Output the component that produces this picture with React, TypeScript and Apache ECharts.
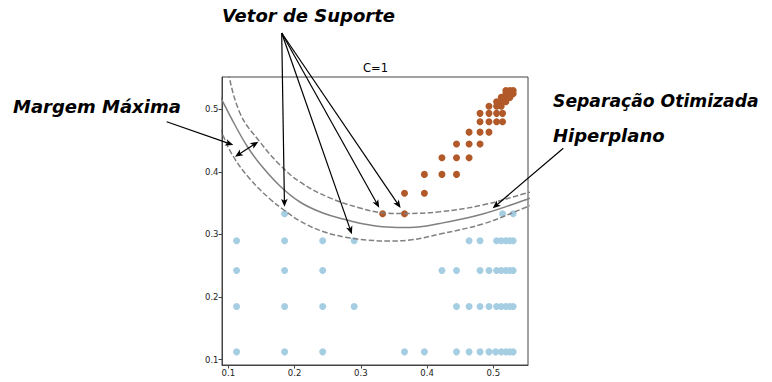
import React, { useEffect, useRef } from "react";
import * as echarts from "echarts";

// ---- axis ticks / ranges ----
const X_TICKS = [0.1, 0.2, 0.3, 0.4, 0.5];
const Y_TICKS = [0.1, 0.2, 0.3, 0.4, 0.5];
const X_RANGE = [0.0905, 0.5524];
const Y_RANGE = [0.0915, 0.5516];

// ---- class 0 (light blue) points, by row: [y, xs] ----
const BLUE_ROWS: [number, number[]][] = [
  [0.1125, [0.1125, 0.185, 0.2425, 0.366, 0.396, 0.4445, 0.4635, 0.48, 0.4935, 0.5035, 0.512, 0.519, 0.525, 0.53]],
  [0.185, [0.1125, 0.185, 0.2425, 0.29, 0.4445, 0.4635, 0.48, 0.4935, 0.505, 0.512, 0.519, 0.525, 0.53]],
  [0.2425, [0.1125, 0.185, 0.2425, 0.4225, 0.4445, 0.48, 0.4935, 0.505, 0.512, 0.519, 0.525, 0.53]],
  [0.29, [0.1125, 0.185, 0.2425, 0.29, 0.4635, 0.48, 0.505, 0.512, 0.519, 0.525, 0.53]],
  [0.333, [0.185, 0.514, 0.53]],
];

// ---- class 1 (brown) points ----
const ORANGE_POINTS: [number, number][] = [
  [0.333, 0.333], [0.366, 0.333],
  [0.366, 0.366], [0.396, 0.366],
  [0.396, 0.396], [0.4225, 0.396], [0.4445, 0.396],
  [0.4225, 0.4225], [0.4445, 0.4225], [0.4635, 0.4225],
  [0.4445, 0.4445], [0.4635, 0.4445], [0.48, 0.4445],
  [0.4635, 0.4635], [0.48, 0.4635], [0.4935, 0.4635],
  [0.48, 0.48], [0.4935, 0.48], [0.505, 0.48], [0.514, 0.48],
  [0.48, 0.4935], [0.4935, 0.4935], [0.505, 0.4935], [0.514, 0.4935],
  [0.4935, 0.505], [0.505, 0.505], [0.512, 0.505],
  [0.505, 0.512], [0.512, 0.512], [0.519, 0.512],
  [0.512, 0.519], [0.519, 0.519], [0.525, 0.519],
  [0.519, 0.525], [0.525, 0.525], [0.53, 0.525],
  [0.519, 0.53], [0.525, 0.53], [0.53, 0.53],
];

// ---- decision function contours ----
const DECISION_BOUNDARY: [number, number][] = [
  [0.0875, 0.522], [0.0905, 0.5149], [0.1101, 0.4749], [0.1282, 0.4414], [0.1478, 0.4126],
  [0.178, 0.3774], [0.2081, 0.3519], [0.2428, 0.3343], [0.279, 0.3232], [0.3092, 0.316],
  [0.3394, 0.312], [0.374, 0.3112], [0.4193, 0.3176], [0.4841, 0.3327], [0.5505, 0.3559],
  [0.5565, 0.3583],
];
const MARGIN_UPPER: [number, number][] = [
  [0.089, 0.5949], [0.0935, 0.5835], [0.1176, 0.4941], [0.1478, 0.4478], [0.178, 0.4111],
  [0.2081, 0.3839], [0.2534, 0.3584], [0.2986, 0.3424], [0.3363, 0.3343], [0.3665, 0.3335],
  [0.4193, 0.3364], [0.4841, 0.3471], [0.5505, 0.3663], [0.5565, 0.3679],
];
const MARGIN_LOWER: [number, number][] = [
  [0.0875, 0.4709], [0.0905, 0.4619], [0.1071, 0.4254], [0.1327, 0.3887], [0.1629, 0.3567],
  [0.184, 0.3391], [0.2081, 0.3216], [0.2428, 0.3048], [0.279, 0.2952], [0.3092, 0.2912],
  [0.3394, 0.2896], [0.374, 0.2912], [0.4193, 0.3008], [0.4841, 0.3168], [0.5505, 0.3439],
  [0.5565, 0.3463],
];

// support vectors pointed to by the annotation
const SUPPORT_VECTORS: [number, number][] = [
  [0.185, 0.333], [0.29, 0.29], [0.333, 0.333], [0.366, 0.333],
];

const TITLE = "C=1";
const LABEL_SV = "Vetor de Suporte";
const LABEL_MARGIN = "Margem Máxima";
const LABEL_SEP = "Separação Otimizada";
const LABEL_HYP = "Hiperplano";

const BLUE = "#a6cee3";
const BROWN = "#b15928";
const CONTOUR = "#808080";
const FONT = '"DejaVu Sans", "Noto Sans", sans-serif';

function arrow(
  x1: number, y1: number, x2: number, y2: number,
  both = false, headLen = 8, headW = 3.3
): any[] {
  const dx = x2 - x1, dy = y2 - y1;
  const len = Math.hypot(dx, dy);
  const ux = dx / len, uy = dy / len;
  const nx = -uy, ny = ux;
  const head = (tx: number, ty: number, sx: number, sy: number) => {
    const bx = tx - sx * headLen, by = ty - sy * headLen;
    const mx = tx - sx * headLen * 0.75, my = ty - sy * headLen * 0.75;
    return {
      type: "polygon",
      z: 100,
      shape: { points: [[tx, ty], [bx + nx * headW, by + ny * headW], [mx, my], [bx - nx * headW, by - ny * headW]] },
      style: { fill: "#000" },
    };
  };
  const sx = both ? x1 + ux * headLen * 0.7 : x1;
  const sy = both ? y1 + uy * headLen * 0.7 : y1;
  const ex = x2 - ux * headLen * 0.7, ey = y2 - uy * headLen * 0.7;
  const els: any[] = [
    { type: "line", z: 100, shape: { x1: sx, y1: sy, x2: ex, y2: ey }, style: { stroke: "#000", lineWidth: 1.2 } },
    head(x2, y2, ux, uy),
  ];
  if (both) els.push(head(x1, y1, -ux, -uy));
  return els;
}

export default function App() {
  const ref = useRef<HTMLDivElement>(null);
  useEffect(() => {
    if (!ref.current) return;
    const chart = echarts.init(ref.current, null, { renderer: "svg" });
    const bluePts: [number, number][] = [];
    BLUE_ROWS.forEach(([y, xs]) => xs.forEach((x) => bluePts.push([x, y])));

    const lineSeries = (data: [number, number][], dashed: boolean) => ({
      type: "line",
      data,
      showSymbol: false,
      smooth: 0.4,
      clip: true,
      z: 5,
      lineStyle: { color: CONTOUR, width: 1.5, type: dashed ? [5.5, 2.4] : "solid" },
    });

    const axisCommon = {
      type: "value",
      axisLine: { show: true, onZero: false, lineStyle: { color: "#444", width: 1 } },
      splitLine: { show: false },
    };

    chart.setOption({
      animation: false,
      backgroundColor: "#fff",
      grid: { left: 222, top: 77, width: 306, height: 288, show: true, borderColor: "#444", borderWidth: 1, backgroundColor: "transparent" },
      xAxis: {
        ...axisCommon,
        min: X_RANGE[0], max: X_RANGE[1],
        axisTick: { show: true, length: 3.5, customValues: X_TICKS, lineStyle: { color: "#444" } },
        axisLabel: { customValues: X_TICKS, fontSize: 8.5, color: "#222", fontFamily: FONT, margin: 3.5, formatter: (v: number) => v.toFixed(1) },
      },
      yAxis: {
        ...axisCommon,
        min: Y_RANGE[0], max: Y_RANGE[1],
        axisTick: { show: true, length: 3.5, customValues: Y_TICKS, lineStyle: { color: "#444" } },
        axisLabel: { customValues: Y_TICKS, fontSize: 8.5, color: "#222", fontFamily: FONT, margin: 3.5, formatter: (v: number) => v.toFixed(1) },
      },
      series: [
        { type: "scatter", data: bluePts, symbolSize: 7, itemStyle: { color: BLUE, opacity: 1 }, z: 2 },
        { type: "scatter", data: ORANGE_POINTS, symbolSize: 7, itemStyle: { color: BROWN, opacity: 1 }, z: 2 },
        lineSeries(MARGIN_UPPER, true),
        lineSeries(DECISION_BOUNDARY, false),
        lineSeries(MARGIN_LOWER, true),
      ],
    });

    const toPx = (p: [number, number]) => chart.convertToPixel({ gridIndex: 0 }, p) as number[];
    const graphics: any[] = [];
    const svStart = [281.7, 33];
    SUPPORT_VECTORS.forEach((sv) => {
      const p = toPx(sv);
      const dx = p[0] - svStart[0], dy = p[1] - svStart[1];
      const l = Math.hypot(dx, dy);
      const shrink = 7;
      graphics.push(...arrow(svStart[0], svStart[1], p[0] - (dx / l) * shrink, p[1] - (dy / l) * shrink));
    });
    graphics.push(...arrow(166.7, 121.7, 233.3, 145));
    graphics.push(...arrow(235, 156.7, 258.3, 141.7, true));
    graphics.push(...arrow(563.3, 148.3, 492.7, 208.3));

    const txt = (text: string, x: number, y: number, font: string, align = "left") => ({
      type: "text", x, y, z: 100,
      style: { text, font, fill: "#000", align, verticalAlign: "middle" },
    });
    graphics.push(txt(LABEL_SV, 222, 15.5, `italic bold 18px ${FONT}`));
    graphics.push(txt(LABEL_MARGIN, 13, 106.5, `italic bold 18px ${FONT}`));
    graphics.push(txt(LABEL_SEP, 553, 101, `italic bold 17.2px ${FONT}`));
    graphics.push(txt(LABEL_HYP, 553, 135.5, `italic bold 18px ${FONT}`));
    graphics.push(txt(TITLE, 375.5, 68.3, `11.5px ${FONT}`, "center"));

    chart.setOption({ graphic: graphics });
    return () => chart.dispose();
  }, []);
  return <div ref={ref} style={{ position: "absolute", left: 0, top: 0, width: 772, height: 382 }} />;
}
